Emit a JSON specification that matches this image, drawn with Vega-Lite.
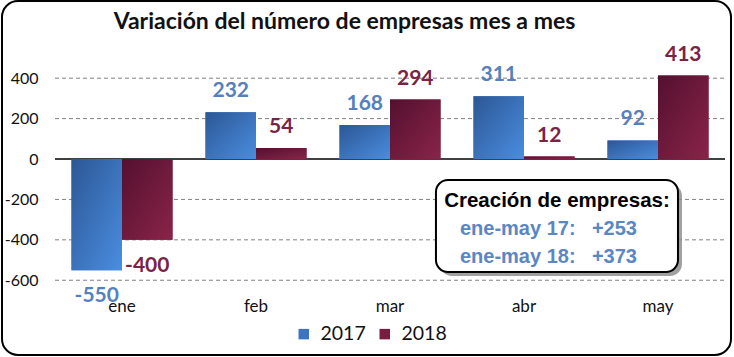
{
  "$schema": "https://vega.github.io/schema/vega-lite/v6.json",
  "width": 729,
  "height": 354,
  "autosize": {"type": "none"},
  "padding": {"left": 2, "top": 1, "right": 3, "bottom": 2},
  "background": "white",
  "config": {
    "view": {"stroke": "black", "strokeWidth": 2, "cornerRadius": 16},
    "font": "Lato"
  },
  "title": {
    "text": "Variación del número de empresas mes a mes",
    "font": "Lato",
    "fontSize": 23,
    "fontWeight": "bold",
    "color": "#111111",
    "anchor": "middle",
    "offset": -33,
    "dx": -22
  },
  "datasets": {
    "bars": [
      {"month": "ene", "year": "2017", "value": -550},
      {"month": "ene", "year": "2018", "value": -400},
      {"month": "feb", "year": "2017", "value": 232},
      {"month": "feb", "year": "2018", "value": 54},
      {"month": "mar", "year": "2017", "value": 168},
      {"month": "mar", "year": "2018", "value": 294},
      {"month": "abr", "year": "2017", "value": 311},
      {"month": "abr", "year": "2018", "value": 12},
      {"month": "may", "year": "2017", "value": 92},
      {"month": "may", "year": "2018", "value": 413}
    ],
    "grid": [{"v": -600}, {"v": -400}, {"v": -200}, {"v": 200}, {"v": 400}],
    "one": [{}]
  },
  "layer": [
    {
      "layer": [
        {
          "data": {"name": "grid"},
          "mark": {"type": "rule", "stroke": "#808080", "strokeDash": [4, 3], "strokeWidth": 1},
          "encoding": {
            "x": {"datum": 0, "type": "quantitative", "scale": {"domain": [0, 5], "range": [53, 723], "nice": false, "zero": false}, "axis": null},
            "x2": {"datum": 5},
            "y": {
              "field": "v", "type": "quantitative",
              "scale": {"domain": [-970, 782], "nice": false, "zero": false},
              "axis": {
                "title": null, "values": [-600, -400, -200, 0, 200, 400],
                "orient": "left", "offset": -53, "domain": false, "ticks": false, "grid": false,
                "labelPadding": 17, "labelFont": "Lato", "labelFontSize": 16, "labelColor": "#111111",
                "labelExpr": "'' + datum.value"
              }
            }
          }
        },
        {
          "data": {"name": "one"},
          "mark": {"type": "rule", "stroke": "black", "strokeWidth": 1.5},
          "encoding": {
            "x": {"datum": 0, "type": "quantitative"},
            "x2": {"datum": 5},
            "y": {"datum": 0, "type": "quantitative", "axis": {"title": null}}
          }
        },
        {
          "data": {"name": "one"},
          "mark": {"type": "rect", "fill": "#8f8f8f", "opacity": 0.85, "cornerRadius": 12, "xOffset": 4, "x2Offset": 4, "yOffset": 4, "y2Offset": 4},
          "encoding": {
            "x": {"datum": 2.843, "type": "quantitative"},
            "x2": {"datum": 4.649},
            "y": {"datum": -104, "type": "quantitative", "axis": {"title": null}},
            "y2": {"datum": -559}
          }
        },
        {
          "data": {"name": "one"},
          "mark": {"type": "rect", "fill": "white", "stroke": "black", "strokeWidth": 2, "cornerRadius": 12},
          "encoding": {
            "x": {"datum": 2.843, "type": "quantitative"},
            "x2": {"datum": 4.649},
            "y": {"datum": -104, "type": "quantitative", "axis": {"title": null}},
            "y2": {"datum": -559}
          }
        },
        {
          "data": {"name": "one"},
          "mark": {"type": "text", "text": "Creación de empresas:", "font": "Liberation Sans", "fontWeight": "bold", "fontSize": 20.5, "align": "center", "baseline": "alphabetic", "fill": "black"},
          "encoding": {
            "x": {"datum": 3.746, "type": "quantitative"},
            "y": {"datum": -238, "type": "quantitative", "axis": {"title": null}}
          }
        },
        {
          "data": {"name": "one"},
          "mark": {"type": "text", "text": "ene-may 17:", "font": "Liberation Sans", "fontWeight": "bold", "fontSize": 20, "align": "left", "baseline": "alphabetic", "fill": "#5b86c4"},
          "encoding": {
            "x": {"datum": 3.022, "type": "quantitative"},
            "y": {"datum": -376, "type": "quantitative", "axis": {"title": null}}
          }
        },
        {
          "data": {"name": "one"},
          "mark": {"type": "text", "text": "+253", "font": "Liberation Sans", "fontWeight": "bold", "fontSize": 20, "align": "left", "baseline": "alphabetic", "fill": "#5b86c4"},
          "encoding": {
            "x": {"datum": 4.007, "type": "quantitative"},
            "y": {"datum": -376, "type": "quantitative", "axis": {"title": null}}
          }
        },
        {
          "data": {"name": "one"},
          "mark": {"type": "text", "text": "ene-may 18:", "font": "Liberation Sans", "fontWeight": "bold", "fontSize": 20, "align": "left", "baseline": "alphabetic", "fill": "#5b86c4"},
          "encoding": {
            "x": {"datum": 3.022, "type": "quantitative"},
            "y": {"datum": -515, "type": "quantitative", "axis": {"title": null}}
          }
        },
        {
          "data": {"name": "one"},
          "mark": {"type": "text", "text": "+373", "font": "Liberation Sans", "fontWeight": "bold", "fontSize": 20, "align": "left", "baseline": "alphabetic", "fill": "#5b86c4"},
          "encoding": {
            "x": {"datum": 4.007, "type": "quantitative"},
            "y": {"datum": -515, "type": "quantitative", "axis": {"title": null}}
          }
        }
      ]
    },
    {
      "data": {"name": "bars"},
      "encoding": {
        "x": {
          "field": "month", "type": "nominal", "sort": ["ene", "feb", "mar", "abr", "may"],
          "scale": {"range": [53, 723], "paddingInner": 0.246, "paddingOuter": 0.123},
          "axis": {"title": null, "orient": "bottom", "offset": -57, "domain": false, "ticks": false, "labelPadding": 0, "labelAngle": 0, "labelFont": "Lato", "labelFontSize": 17, "labelColor": "#111111"}
        },
        "xOffset": {"field": "year", "type": "nominal", "scale": {"paddingInner": 0, "paddingOuter": 0}},
        "y": {"field": "value", "type": "quantitative", "axis": {"title": null}}
      },
      "layer": [
        {
          "mark": {"type": "bar"},
          "encoding": {
            "color": {
              "field": "year", "type": "nominal",
              "scale": {"range": ["#3b74c0", "#7a1c40"]},
              "legend": {
                "orient": "none", "legendX": 292, "legendY": 323, "direction": "horizontal", "title": null,
                "symbolType": "square", "symbolSize": 110, "symbolStrokeWidth": 0, "symbolOpacity": 1,
                "labelFont": "Lato", "labelFontSize": 19.5, "labelColor": "#111111",
                "labelOffset": 7, "columnPadding": 9, "padding": 0
              }
            }
          }
        },
        {
          "transform": [{"filter": "datum.year === '2017'"}],
          "mark": {"type": "bar", "fill": {"gradient": "linear", "x1": 0, "y1": 0, "x2": 1, "y2": 1, "stops": [{"offset": 0, "color": "#2c5795"}, {"offset": 1, "color": "#4a8de0"}]}}
        },
        {
          "transform": [{"filter": "datum.year === '2018'"}],
          "mark": {"type": "bar", "fill": {"gradient": "linear", "x1": 0, "y1": 0, "x2": 1, "y2": 1, "stops": [{"offset": 0, "color": "#541030"}, {"offset": 1, "color": "#8a2448"}]}}
        },
        {
          "transform": [{"filter": "datum.value >= 0"}],
          "mark": {"type": "text", "font": "Lato", "fontWeight": "bold", "fontSize": 21, "baseline": "alphabetic", "dy": -15},
          "encoding": {
            "text": {"field": "value", "type": "nominal"},
            "color": {"condition": {"test": "datum.year === '2017'", "value": "#5580bd"}, "value": "#7b2346"}
          }
        },
        {
          "transform": [{"filter": "datum.value < 0"}],
          "mark": {"type": "text", "font": "Lato", "fontWeight": "bold", "fontSize": 21, "baseline": "top", "dy": 15},
          "encoding": {
            "text": {"field": "value", "type": "nominal"},
            "color": {"condition": {"test": "datum.year === '2017'", "value": "#5580bd"}, "value": "#7b2346"}
          }
        }
      ]
    }
  ],
  "resolve": {"scale": {"x": "independent"}}
}
